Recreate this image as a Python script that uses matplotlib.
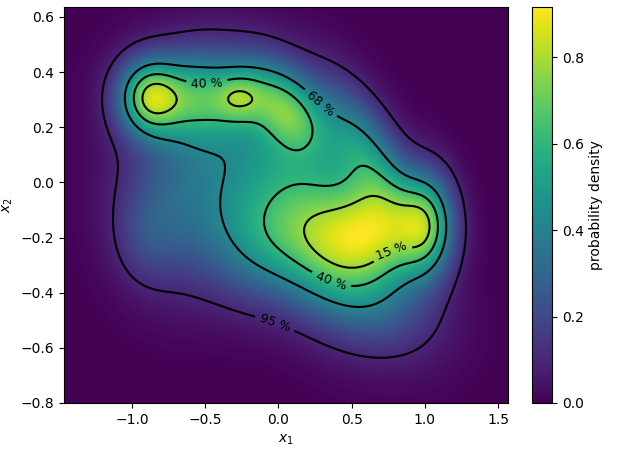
import numpy as np
import matplotlib
matplotlib.use("Agg")
import matplotlib.pyplot as plt

# bumps of the mixture: centre, widths, tilt (deg) and peak height
mu_x = [-0.88, -0.55, -0.27, 0.05, 0.45, 0.75, 1.02, -0.65, 0.15, 0.55, -0.90, 0.60, -0.15, -0.45]
mu_y = [0.31, 0.31, 0.31, 0.27, -0.20, -0.18, -0.15, -0.05, -0.05, -0.42, -0.20, 0.10, -0.22, 0.33]
sig_x = [0.15, 0.18, 0.12, 0.20, 0.28, 0.22, 0.13, 0.30, 0.45, 0.35, 0.15, 0.25, 0.25, 0.45]
sig_y = [0.095, 0.11, 0.07, 0.10, 0.135, 0.135, 0.13, 0.22, 0.22, 0.12, 0.12, 0.12, 0.15, 0.14]
tilt = [0, 0, 0, -20, 0, 0, 0, 0, -25, -10, 0, -35, 0, 0]
height = [0.53, 0.30, 0.24, 0.37, 0.27, 0.29, 0.40, 0.22, 0.38, 0.15, 0.08, 0.30, 0.20, 0.06]

mass_pct = [95, 68, 40, 15]
x_lim = (-1.464, 1.568)
y_lim = (-0.8, 0.636)

# where the contour labels sit
label_pos = [(-0.01, -0.49), (0.31, 0.30), (-0.49, 0.385), (0.35, -0.37), (0.78, -0.255)]


def density(X, Y):
    Z = np.zeros_like(X)
    for mx, my, sx, sy, t, h in zip(mu_x, mu_y, sig_x, sig_y, tilt, height):
        a = np.deg2rad(t)
        dx, dy = X - mx, Y - my
        u = dx * np.cos(a) + dy * np.sin(a)
        v = -dx * np.sin(a) + dy * np.cos(a)
        Z += h * np.exp(-0.5 * ((u / sx) ** 2 + (v / sy) ** 2))
    return Z


x = np.linspace(*x_lim, 600)
y = np.linspace(*y_lim, 400)
X, Y = np.meshgrid(x, y)
Z = density(X, Y)
cell = (x[1] - x[0]) * (y[1] - y[0])
Z /= Z.sum() * cell

# highest density region thresholds
zs = np.sort(Z.ravel())[::-1]
cum = np.cumsum(zs) * cell
levels = [zs[np.searchsorted(cum, p / 100)] for p in mass_pct]

fig = plt.figure(figsize=(6.17, 4.57), dpi=100)
ax = fig.add_axes([0.1037, 0.1182, 0.7196, 0.8665])
cax = fig.add_axes([0.862, 0.1182, 0.033, 0.8665])

im = ax.imshow(Z, origin="lower", extent=[*x_lim, *y_lim], aspect="auto",
               cmap="viridis", vmin=0)
cs = ax.contour(X, Y, Z, levels=levels, colors="k", linewidths=1.5)
fmt = {lv: f"{p} %" for lv, p in zip(levels, mass_pct)}
ax.clabel(cs, fmt=fmt, fontsize=9, manual=label_pos)

cb = fig.colorbar(im, cax=cax)
cb.set_label("probability density")
ax.set_xticks([-1.0, -0.5, 0.0, 0.5, 1.0, 1.5])
ax.set_xlim(*x_lim)
ax.set_ylim(*y_lim)
ax.set_xlabel("$x_1$")
ax.set_ylabel("$x_2$")

fig.savefig("out.png", dpi=100)
